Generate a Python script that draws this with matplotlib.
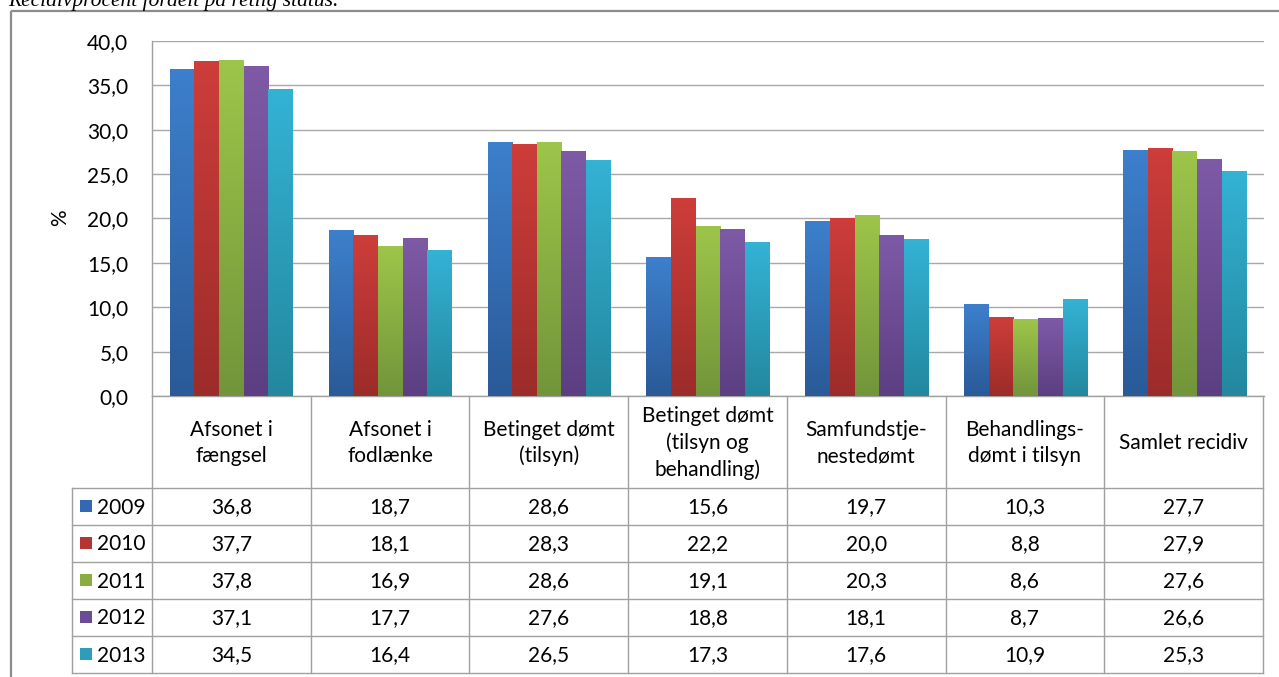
import numpy as np
import matplotlib

matplotlib.use("Agg")
import matplotlib.pyplot as plt
from matplotlib.colors import LinearSegmentedColormap
from matplotlib.patches import Rectangle

plt.rcParams["font.family"] = ["Lato", "DejaVu Sans"]

TITLE = "Recidivprocent fordelt på retlig status."
CATEGORIES = [
    "Afsonet i\nfængsel",
    "Afsonet i\nfodlænke",
    "Betinget dømt\n(tilsyn)",
    "Betinget dømt\n(tilsyn og\nbehandling)",
    "Samfundstje-\nnestedømt",
    "Behandlings-\ndømt i tilsyn",
    "Samlet recidiv",
]
YEARS = ["2009", "2010", "2011", "2012", "2013"]
V2009 = [36.8, 18.7, 28.6, 15.6, 19.7, 10.3, 27.7]
V2010 = [37.7, 18.1, 28.3, 22.2, 20.0, 8.8, 27.9]
V2011 = [37.8, 16.9, 28.6, 19.1, 20.3, 8.6, 27.6]
V2012 = [37.1, 17.7, 27.6, 18.8, 18.1, 8.7, 26.6]
V2013 = [34.5, 16.4, 26.5, 17.3, 17.6, 10.9, 25.3]
SERIES = [V2009, V2010, V2011, V2012, V2013]
YTICKS = [0, 5, 10, 15, 20, 25, 30, 35, 40]

TOP = ["#3d7fcc", "#cd3d3a", "#9dc54a", "#7e5aa6", "#34b2d4"]
BOTTOM = ["#2a5a98", "#9c2c2a", "#72953a", "#5c3f82", "#23889f"]
MID = ["#3468b2", "#b53532", "#88ad42", "#6c4c94", "#2c9dba"]

W, H = 1279, 677
GRID = "#a8a8a8"
LINE = "#a0a0a0"
FS = 15


def fmt(v):
    return f"{v:.1f}".replace(".", ",")


def px_axes(fig, x0, y0, x1, y1):
    return fig.add_axes([x0 / W, 1 - y1 / H, (x1 - x0) / W, (y1 - y0) / H])


fig = plt.figure(figsize=(W / 100, H / 100), dpi=100)

# plot area
left, right, top, bottom = 152, 1264, 41, 396
ax = px_axes(fig, left, top, right, bottom)
n = len(CATEGORIES)
x = np.arange(n)
width = 0.775 / len(SERIES)
for k, vals in enumerate(SERIES):
    bars = ax.bar(x + (k - 2) * width, vals, width, color=MID[k], zorder=2, linewidth=0)
    cmap = LinearSegmentedColormap.from_list(f"g{k}", [BOTTOM[k], TOP[k]])
    grad = np.linspace(0, 1, 64).reshape(-1, 1)
    for b in bars:
        x0, w, h = b.get_x(), b.get_width(), b.get_height()
        ax.imshow(grad, extent=(x0, x0 + w, 0, h), origin="lower", cmap=cmap,
                  aspect="auto", zorder=3, interpolation="bilinear")
ax.set_xlim(-0.5, n - 0.5)
ax.set_ylim(0, 40)
ax.set_yticks(YTICKS)
ax.set_yticklabels([fmt(v) for v in YTICKS])
ax.set_xticks([])
ax.tick_params(axis="y", length=0, pad=17, labelsize=FS)
ax.set_axisbelow(True)
ax.yaxis.grid(True, color=GRID, linewidth=1.0)
for side in ("top", "right"):
    ax.spines[side].set_visible(False)
for side in ("left", "bottom"):
    ax.spines[side].set_color(LINE)
    ax.spines[side].set_linewidth(1.0)

# overlay for table, frame and labels
ov = fig.add_axes([0, 0, 1, 1], zorder=5)
ov.set_xlim(0, W)
ov.set_ylim(H, 0)
ov.axis("off")
ov.patch.set_visible(False)

ov.add_patch(Rectangle((11, 11), 1400, 800, fill=False, edgecolor="#8c8c8c", linewidth=1.6))
ov.text(8, 6, TITLE, family="Liberation Serif", style="italic", fontsize=15.5,
        ha="left", va="baseline", color="black")
ov.text(60, 218, "%", rotation=90, fontsize=FS, ha="center", va="center")

col_w = (1263 - left) / n
head_top, head_bot = 396, 488
row_h = 37
legend_left = 72
row_edges = [head_bot + i * row_h for i in range(len(SERIES) + 1)]

for y in row_edges:
    ov.plot([legend_left, 1263], [y, y], color=LINE, lw=1.0)
ov.plot([legend_left, legend_left], [head_bot, row_edges[-1]], color=LINE, lw=1.0)
for i in range(n + 1):
    xc = left + i * col_w
    ov.plot([xc, xc], [head_top, row_edges[-1]], color=LINE, lw=1.0)

for i, cat in enumerate(CATEGORIES):
    ov.text(left + (i + 0.5) * col_w, (head_top + head_bot) / 2 + 1, cat, ha="center",
            va="center", fontsize=FS, linespacing=1.38, multialignment="center")

for r, (year, vals) in enumerate(zip(YEARS, SERIES)):
    yc = row_edges[r] + row_h / 2
    ov.add_patch(Rectangle((80, yc - 6.5), 12, 12, facecolor=MID[r], edgecolor="none"))
    ov.text(97, yc + 1, year, ha="left", va="center", fontsize=FS)
    for i, v in enumerate(vals):
        ov.text(left + (i + 0.5) * col_w, yc + 1, fmt(v), ha="center", va="center", fontsize=FS)

fig.savefig("out.png", dpi=100)
